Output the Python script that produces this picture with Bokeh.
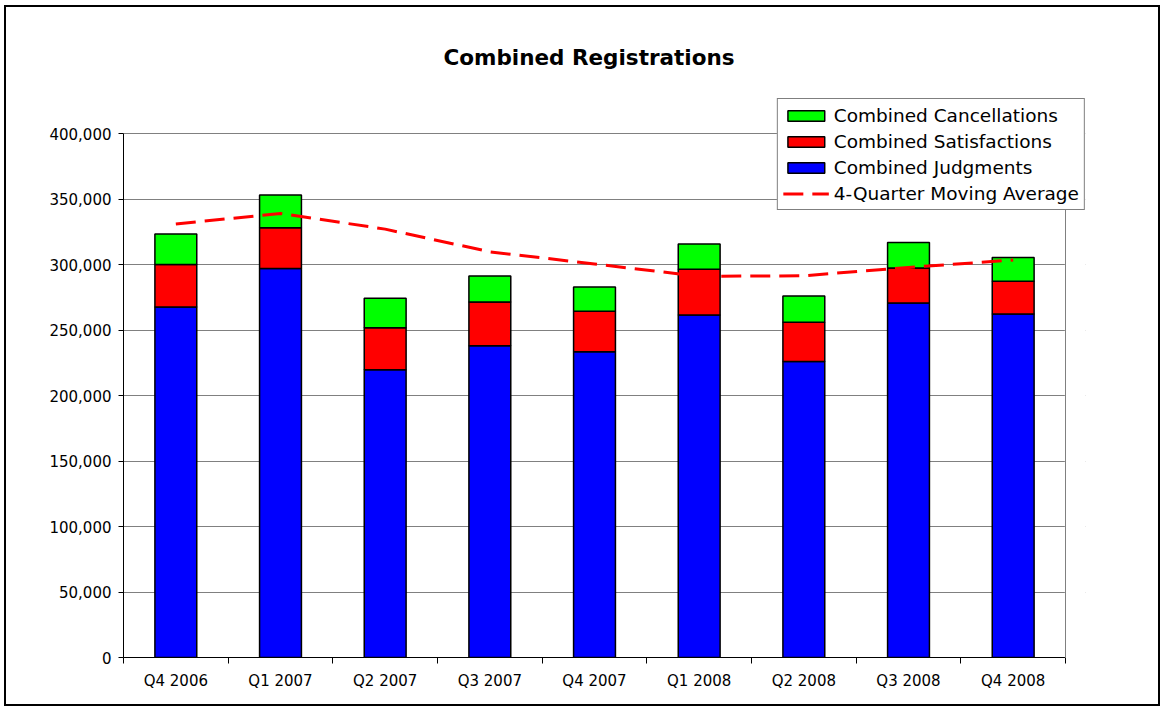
from bokeh.plotting import figure
from bokeh.models import (ColumnDataSource, Range1d, FixedTicker, NumeralTickFormatter,
                          Legend, LegendItem, BoxAnnotation, Span)
from bokeh.embed import file_html
from bokeh.resources import INLINE

quarters = ["Q4 2006", "Q1 2007", "Q2 2007", "Q3 2007", "Q4 2007",
            "Q1 2008", "Q2 2008", "Q3 2008", "Q4 2008"]
judgments = [267600, 296900, 219600, 238000, 233400, 261500, 226000, 270700, 262200]
satisfactions = [32400, 31200, 32200, 33400, 30900, 34900, 29900, 26700, 25000]
cancellations = [23200, 25000, 22400, 19900, 18600, 19200, 20100, 19400, 18200]
moving_avg = [330900, 339000, 327000, 309700, 300400, 291000, 291400, 297800, 303400]
y_ticks = [0, 50000, 100000, 150000, 200000, 250000, 300000, 350000, 400000]

idx = list(range(len(quarters)))
source = ColumnDataSource(dict(x=idx, judgments=judgments, satisfactions=satisfactions,
                               cancellations=cancellations, ma=moving_avg))

FONT = "DejaVu Sans"
x_lo, x_hi = -0.5, len(quarters) - 0.5
y_lo, y_hi = y_ticks[0], y_ticks[-1]

# the frame is a little larger than the plot area so that the legend can overhang it
p = figure(width=1156, height=701, output_backend="svg", toolbar_location=None,
           x_range=Range1d(x_lo, x_hi + 0.191), y_range=Range1d(y_lo, y_hi * 1.0668),
           min_border_left=117, min_border_right=77, min_border_top=91, min_border_bottom=51,
           background_fill_color="white", border_fill_color="white")
p.styles = {"border": "2px solid black", "margin-left": "4px", "margin-top": "5px"}

p.title.text = "Combined Registrations"
p.title.align = "left"
p.title.text_font = FONT
p.title.text_font_size = "21.5px"
p.title.text_font_style = "bold"
p.title.text_color = "black"
p.title.standoff = 58
p.title.offset = 320

p.outline_line_color = None

bars = p.vbar_stack(["judgments", "satisfactions", "cancellations"], x="x", width=0.4,
                    source=source, color=["#0000FF", "#FF0000", "#00FF00"],
                    line_color="black", line_width=1.5)
ma_line = p.line("x", "ma", source=source, line_color="#FF0000", line_width=3,
                 line_dash="20 9")

xa = p.xaxis[0]
xa.bounds = (x_lo, x_hi)
xa.ticker = FixedTicker(ticks=idx, minor_ticks=[i - 0.5 for i in range(len(quarters) + 1)])
xa.major_label_overrides = {i: q for i, q in zip(idx, quarters)}
xa.major_tick_line_color = None
xa.minor_tick_line_color = "black"
xa.minor_tick_out = 6
xa.minor_tick_in = 0
xa.axis_line_color = "black"
xa.major_label_text_font = FONT
xa.major_label_text_font_size = "15px"
xa.major_label_text_color = "black"
xa.major_label_standoff = 8

ya = p.yaxis[0]
ya.bounds = (y_lo, y_hi)
ya.ticker = FixedTicker(ticks=y_ticks, minor_ticks=[])
ya.formatter = NumeralTickFormatter(format="0,0")
ya.major_tick_out = 5
ya.major_tick_in = 0
ya.major_tick_line_color = "black"
ya.axis_line_color = "black"
ya.major_label_text_font = FONT
ya.major_label_text_font_size = "15px"
ya.major_label_text_color = "black"
ya.major_label_standoff = 7

p.xgrid.grid_line_color = None
p.ygrid.grid_line_color = "#808080"
p.ygrid.grid_line_width = 1

# hide the grid beyond the plot area's right edge, then draw that edge
p.add_layout(BoxAnnotation(left=x_hi, fill_color="white", fill_alpha=1.0,
                           line_color="white", line_width=2))
p.add_layout(Span(location=x_hi, dimension="height", line_color="#808080", line_width=1))

legend = Legend(items=[
    LegendItem(label="Combined Cancellations", renderers=[bars[2]]),
    LegendItem(label="Combined Satisfactions", renderers=[bars[1]]),
    LegendItem(label="Combined Judgments", renderers=[bars[0]]),
    LegendItem(label="4-Quarter Moving Average", renderers=[ma_line]),
], location="top_right")
legend.label_text_font = FONT
legend.label_text_font_size = "18.5px"
legend.label_text_color = "black"
legend.glyph_width = 46
legend.glyph_height = 13
legend.label_height = 22
legend.spacing = 4
legend.padding = 5
legend.margin = 0
legend.label_standoff = 5
legend.border_line_color = "black"
legend.border_line_width = 1
legend.background_fill_color = "white"
legend.background_fill_alpha = 1
p.add_layout(legend, "center")

open("out.html", "w").write(file_html(p, INLINE))
